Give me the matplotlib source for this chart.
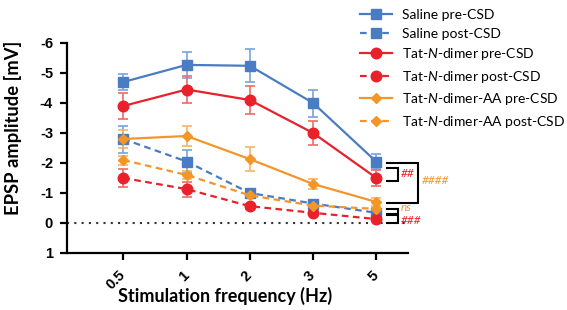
import matplotlib
matplotlib.use("Agg")
import matplotlib.pyplot as plt
import numpy as np

freqs = ["0.5", "1", "2", "3", "5"]

saline_pre = [-4.70, -5.27, -5.24, -4.00, -2.04]
saline_pre_err = [0.28, 0.43, 0.55, 0.45, 0.25]
saline_post = [-2.80, -2.05, -1.00, -0.65, -0.34]
saline_post_err = [0.45, 0.37, 0.10, 0.08, 0.15]

tat_pre = [-3.90, -4.45, -4.10, -3.00, -1.50]
tat_pre_err = [0.43, 0.45, 0.47, 0.40, 0.27]
tat_post = [-1.50, -1.13, -0.56, -0.34, -0.13]
tat_post_err = [0.30, 0.25, 0.08, 0.06, 0.05]

aa_pre = [-2.80, -2.90, -2.13, -1.30, -0.70]
aa_pre_err = [0.30, 0.33, 0.39, 0.17, 0.12]
aa_post = [-2.10, -1.60, -0.92, -0.58, -0.47]
aa_post_err = [0.15, 0.12, 0.08, 0.06, 0.06]

BLUE = "#4a7cc4"
RED = "#e8212b"
ORANGE = "#f3962a"
BLUE_E = "#7aa3dc"
RED_E = "#ef6a6a"
ORANGE_E = "#f5b469"

plt.rcParams['mathtext.fontset'] = 'custom'
plt.rcParams['mathtext.rm'] = 'Lato'
plt.rcParams['mathtext.it'] = 'Lato:italic'

fig = plt.figure(figsize=(5.67, 3.10), dpi=100)
ax = fig.add_axes([67/567, 1-253/310, (408-67)/567, (253-43)/310])

x = np.arange(len(freqs))

series = [
    (saline_pre, saline_pre_err, BLUE, BLUE_E, 's', 7.0, '-', "Saline pre-CSD"),
    (saline_post, saline_post_err, BLUE, BLUE_E, 's', 7.0, '--', "Saline post-CSD"),
    (tat_pre, tat_pre_err, RED, RED_E, 'o', 7.6, '-', r"Tat-$\mathit{N}$-dimer pre-CSD"),
    (tat_post, tat_post_err, RED, RED_E, 'o', 7.6, '--', r"Tat-$\mathit{N}$-dimer post-CSD"),
    (aa_pre, aa_pre_err, ORANGE, ORANGE_E, 'D', 5.2, '-', r"Tat-$\mathit{N}$-dimer-AA pre-CSD"),
    (aa_post, aa_post_err, ORANGE, ORANGE_E, 'D', 5.2, '--', r"Tat-$\mathit{N}$-dimer-AA post-CSD"),
]

handles = []
for vals, err, c, ce, m, ms, ls, lab in series:
    ax.errorbar(x, vals, yerr=err, fmt='none', ecolor=ce, elinewidth=1.2,
                capsize=3.5, capthick=1.2, zorder=2)
    h, = ax.plot(x, vals, color=c, marker=m, markersize=ms, linestyle=ls,
                 linewidth=1.6, label=lab, zorder=3,
                 dashes=(3, 2) if ls == '--' else (None, None))
    handles.append(h)

ax.axhline(0, color='#333333', linestyle=(0, (1, 2.5)), linewidth=1.5, zorder=1)

ax.set_xlim(-0.89, 4.5)
ax.set_ylim(1, -6)
ax.set_yticks([-6, -5, -4, -3, -2, -1, 0, 1])
ax.set_yticklabels(["-6", "-5", "-4", "-3", "-2", "-1", "0", "1"],
                   fontfamily="Liberation Sans", fontweight="bold", fontsize=10.5)
ax.set_xticks(x)
ax.set_xticklabels(freqs, rotation=45, ha='right', va='center', rotation_mode='anchor',
                   fontfamily="Liberation Sans", fontweight="bold", fontsize=10.5)
for s in ['top', 'right']:
    ax.spines[s].set_visible(False)
for s in ['left', 'bottom']:
    ax.spines[s].set_linewidth(1.6)
ax.tick_params(width=1.6, length=5)
ax.tick_params(axis='y', pad=5)
ax.tick_params(axis='x', pad=9.5)

xl = ax.set_xlabel("Stimulation frequency (Hz)", fontfamily="Lato", fontweight="bold",
                   fontsize=13.5)
yl = ax.set_ylabel("EPSP amplitude [mV]", fontfamily="Lato", fontweight="bold",
                   fontsize=13.5)

# fit label sizes to the reference extents
renderer = fig.canvas.get_renderer()
for lab, target, horiz in [(xl, 213, True), (yl, 173, False)]:
    bb = lab.get_window_extent(renderer)
    cur = bb.width if horiz else bb.height
    lab.set_fontsize(lab.get_fontsize() * target / cur)

ax.xaxis.set_label_coords((225.5 - 67) / 341, -(287 - 253) / 210)
ax.yaxis.set_label_coords((22 - 67) / 341, (253 - 128) / 210)

# significance brackets
def bracket(y0, y1, x0, x1, text, color, tx, ty):
    ax.plot([x0, x1, x1, x0], [y0, y0, y1, y1], color='black', linewidth=1.5,
            clip_on=False, solid_joinstyle='miter')
    ax.text(tx, ty, text, color=color, fontstyle='italic', fontsize=8.5,
            fontfamily="Lato", va='center', ha='left', clip_on=False)

bracket(-1.83, -1.40, 4.17, 4.34, "##", RED, 4.38, -1.65)
bracket(-2.00, -0.67, 4.17, 4.66, "####", ORANGE, 4.72, -1.42)
bracket(-0.48, -0.31, 4.17, 4.34, "ns", ORANGE, 4.38, -0.52)
bracket(-0.27, 0.00, 4.17, 4.34, "###", RED, 4.38, -0.08)

fig.legend(handles=handles, loc='upper left', bbox_to_anchor=(360/567, 1 - 9/310),
           frameon=False, prop={'family': 'Lato', 'size': 10}, handlelength=2.3,
           handletextpad=0.7, labelspacing=0.47, borderpad=0, borderaxespad=0)

fig.savefig("out.png", dpi=100)
